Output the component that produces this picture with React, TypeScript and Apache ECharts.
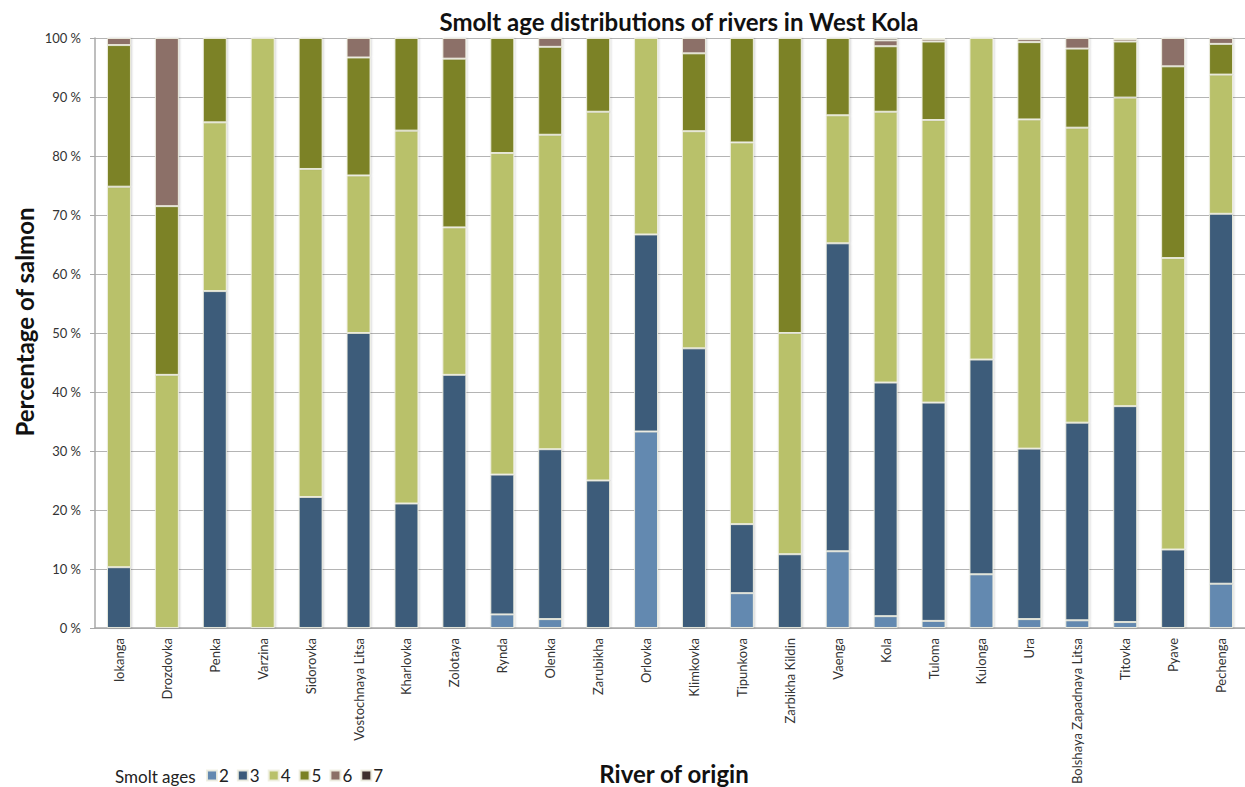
import React, { useEffect, useRef } from "react";
import * as echarts from "echarts";

const rivers = [
  "Iokanga", "Drozdovka", "Penka", "Varzina", "Sidorovka", "Vostochnaya Litsa",
  "Kharlovka", "Zolotaya", "Rynda", "Olenka", "Zarubikha", "Orlovka",
  "Klimkovka", "Tipunkova", "Zarbikha Kildin", "Vaenga", "Kola", "Tuloma",
  "Kulonga", "Ura", "Bolshaya Zapadnaya Litsa", "Titovka", "Pyave", "Pechenga",
];

const age2 = [0, 0, 0, 0, 0, 0, 0, 0, 2.3, 1.5, 0, 33.3, 0, 5.9, 0, 13.0, 2.0, 1.2, 9.1, 1.5, 1.3, 1.0, 0, 7.5];
const age3 = [10.3, 0, 57.1, 0, 22.2, 50.0, 21.1, 42.9, 23.7, 28.8, 25.0, 33.4, 47.4, 11.7, 12.5, 52.2, 39.6, 37.0, 36.4, 28.9, 33.5, 36.6, 13.3, 62.7];
const age4 = [64.5, 42.9, 28.6, 100, 55.6, 26.7, 63.2, 25.0, 54.5, 53.3, 62.5, 33.3, 36.8, 64.7, 37.5, 21.7, 45.9, 47.9, 54.5, 55.8, 50.0, 52.3, 49.4, 23.6];
const age5 = [24.0, 28.6, 14.3, 0, 22.2, 20.0, 15.7, 28.6, 19.5, 14.9, 12.5, 0, 13.2, 17.7, 50.0, 13.1, 11.1, 13.3, 0, 13.1, 13.4, 9.5, 32.5, 5.2];
const age6 = [1.2, 28.5, 0, 0, 0, 3.3, 0, 3.5, 0, 1.5, 0, 0, 2.6, 0, 0, 0, 1.0, 0.4, 0, 0.5, 1.8, 0.4, 4.8, 1.0];
const age7 = [0, 0, 0, 0, 0, 0, 0, 0, 0, 0, 0, 0, 0, 0, 0, 0, 0.4, 0.2, 0, 0.2, 0, 0.2, 0, 0];

const ageNames = ["2", "3", "4", "5", "6", "7"];
const ageColors = ["#6489b0", "#3c5b7a", "#b9c16b", "#7b8226", "#8c7067", "#3d2f2d"];
const yTicks = [0, 10, 20, 30, 40, 50, 60, 70, 80, 90, 100];

const FONT = "Lato, 'Open Sans', sans-serif";

export default function App() {
  const ref = useRef<HTMLDivElement>(null);
  useEffect(() => {
    if (!ref.current) return;
    const chart = echarts.init(ref.current, null, { renderer: "svg" });
    const seriesData = [age2, age3, age4, age5, age6, age7];
    chart.setOption({
      animation: false,
      textStyle: { fontFamily: FONT },
      title: {
        text: "Smolt age distributions of rivers in West Kola",
        left: 674,
        textAlign: "center",
        top: 4,
        textStyle: { fontFamily: FONT, fontSize: 24, fontWeight: "bold", color: "#111" },
      },
      legend: {
        data: ageNames,
        left: 206,
        top: 767,
        padding: 0,
        itemWidth: 10,
        itemHeight: 10,
        itemGap: 8,
        icon: "rect",
        textStyle: { fontFamily: FONT, fontSize: 17, color: "#222", padding: [0, 0, 0, -3] },
      },
      grid: { left: 95, top: 38, width: 1158, bottom: 158 },
      xAxis: {
        type: "category",
        data: rivers,
        axisLine: { lineStyle: { color: "#a8a8a8", width: 1.5 } },
        axisTick: { show: false },
        axisLabel: { rotate: 90, fontSize: 13, color: "#333", fontFamily: FONT, margin: 10, interval: 0 },
      },
      yAxis: {
        type: "value",
        min: yTicks[0],
        max: yTicks[yTicks.length - 1],
        interval: 10,
        axisLine: { show: true, lineStyle: { color: "#a8a8a8", width: 1.5 } },
        axisTick: { show: true, length: 5, lineStyle: { color: "#a8a8a8" } },
        splitLine: { lineStyle: { color: "#b4b4b4", width: 1.2 } },
        axisLabel: { formatter: "{value} %", fontSize: 13, color: "#333", fontFamily: FONT, margin: 14 },
      },
      graphic: [
        {
          type: "text",
          x: 24,
          y: 322,
          rotation: Math.PI / 2,
          style: {
            text: "Percentage of salmon",
            font: `bold 24px ${FONT}`,
            fill: "#111",
            align: "center",
            verticalAlign: "middle",
          },
        },
        {
          type: "text",
          x: 674,
          y: 773,
          style: {
            text: "River of origin",
            font: `bold 24px ${FONT}`,
            fill: "#111",
            align: "center",
            verticalAlign: "middle",
          },
        },
        {
          type: "text",
          x: 115,
          y: 776,
          style: {
            text: "Smolt ages",
            font: `17px ${FONT}`,
            fill: "#222",
            align: "left",
            verticalAlign: "middle",
          },
        },
      ],
      series: ageNames.map((n, i) => ({
        name: n,
        type: "bar",
        stack: "total",
        barWidth: "50%",
        data: seriesData[i],
        itemStyle: {
          color: ageColors[i],
          borderColor: "rgba(240,240,225,0.9)",
          borderWidth: 1,
          shadowColor: "rgba(0,0,0,0.18)",
          shadowBlur: 2,
          shadowOffsetX: 1,
        },
      })),
    });
    return () => chart.dispose();
  }, []);
  return (
    <div
      ref={ref}
      style={{ position: "absolute", left: 0, top: 0, width: 1245, height: 787, background: "#fff" }}
    />
  );
}
